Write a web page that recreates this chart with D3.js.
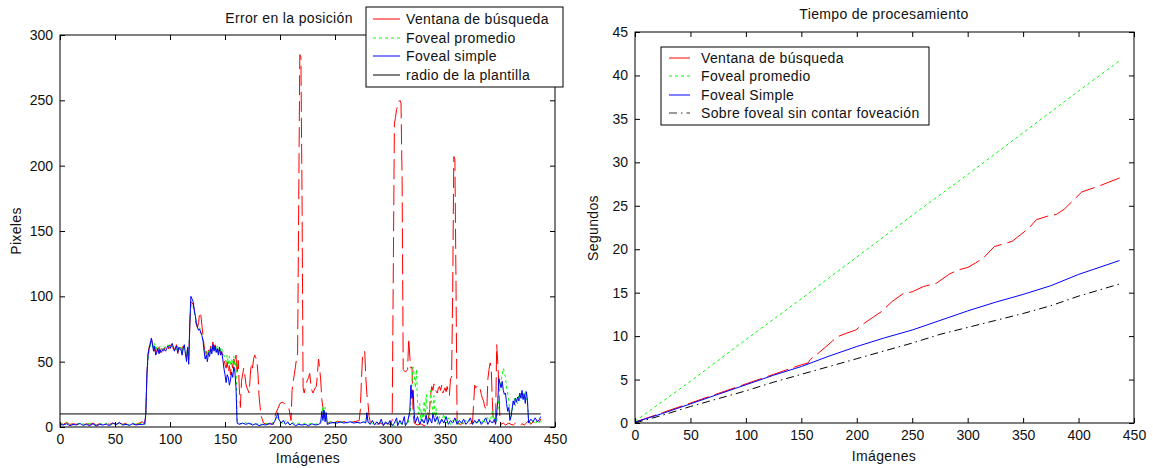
<!DOCTYPE html>
<html>
<head>
<meta charset="utf-8">
<script src="https://cdn.jsdelivr.net/npm/d3@7"></script>
<style>
  body { margin: 0; background: #fff; }
  svg { display: block; }
  text { font-family: "Liberation Sans", Arial, Helvetica, sans-serif; font-size: 14px; fill: #111; }
  text.lbl { letter-spacing: 0.35px; }
</style>
</head>
<body>
<svg id="fig" width="1153" height="468"></svg>
<script>
// ---------- Error en la posición: [imagen, píxeles] ----------
const errVentana = [[0,3],[3,2],[6,3.5],[9,2],[12,2.5],[15,2],[18,3],[21,1.5],[24,2.5],[27,2],[30,3],[33,1.5],[36,2.5],[39,2],[42,3],[45,2],[48,3],[51,2],[54,3],[57,2],[60,3],[63,2],[66,2.5],[69,2],[72,3],[75,4],[77,2],[78,10],[79,40],[80,56],[81,61],[82,64],[83,69],[84,63],[85,61],[86,58],[87,60],[88,56],[89,58],[90,61],[91,57],[92,60],[94,58],[96,62],[98,59],[100,63],[102,61],[104,59],[106,63],[107,56],[108,60],[110,61],[111,58],[112,62],[113,59],[114,57],[115,54],[116,60],[117,50],[118,77],[119,96],[120,95],[121,94],[122,90],[123,82],[124,78],[125,76],[126,80],[127,88],[128,86],[129,78],[130,70],[131,62],[132,56],[133,58],[134,53],[135,59],[136,57],[137,62],[138,58],[139,65],[140,60],[141,63],[142,58],[143,61],[144,57],[145,60],[146,56],[147,58],[148,54],[149,52],[150,48],[151,45],[152,50],[153,42],[154,47],[155,40],[156,49],[157,45],[158,52],[159,48],[160,55],[161,40],[162,51],[163,30],[164,15],[165,35],[167,45],[168,40],[169,33],[170,30],[172,26],[173,40],[174,49],[175,45],[176,52],[177,55],[178,53],[179,51],[180,40],[181,23],[182,15],[183,8],[185,3],[188,2],[191,3],[194,2],[196,10],[198,14],[200,18],[202,19],[204,18],[206,17],[208,15],[210,5],[211,28],[212,35],[213,40],[214,46],[215,52],[216,56],[217,170],[218,285],[219,283],[220,180],[221,30],[222,26],[223,30],[224,34],[225,36],[226,38],[227,41],[228,33],[229,28],[230,26],[231,28],[232,30],[233,31],[234,40],[235,52],[236,45],[237,36],[238,21],[239,15],[240,5],[243,3],[246,4],[249,3],[252,4.5],[255,3.5],[258,4],[261,4.5],[264,3.5],[267,4],[270,4.5],[272,5],[273,13],[274,35],[275,54],[276,56],[277,58],[278,38],[279,25],[280,18],[281,8],[282,4],[285,3],[288,2],[291,3],[294,2],[297,3],[300,2],[302,5],[303,120],[304,232],[305,237],[306,243],[307,246],[308,249],[309,250],[310,248],[311,189],[312,44],[313,43],[314,42],[315,43],[316,44],[317,68],[318,54],[319,45],[320,46],[321,10],[322,3],[325,1.5],[328,2.5],[331,1],[334,2],[336,13],[337,25],[338,31],[339,28],[340,33],[341,30],[342,27],[343,26],[344,30],[345,31],[346,28],[347,32],[348,26],[349,28],[350,30],[351,27],[352,31],[353,26],[354,24],[355,37],[356,38],[357,105],[358,207],[359,205],[360,110],[361,3],[364,2],[367,3],[370,1.5],[373,2.5],[375,3],[376,18],[377,32],[378,30],[379,31],[380,29],[381,28],[382,29],[383,25],[384,22],[385,20],[386,16],[387,14],[388,13],[389,37],[390,44],[391,49],[392,46],[393,20],[394,3],[396,5],[397,63],[398,49],[399,30],[400,5],[401,2],[403,3],[405,1.5],[408,3],[410,2],[412,1.5],[414,3],[416,2],[418,1],[420,2.5],[422,1.5],[424,3],[426,5],[428,2],[430,4],[432,3],[434,5],[436,4],[437,6]];

const errPromedio = [[0,3],[3,2],[6,3],[9,2.5],[12,1.5],[15,3],[18,2],[21,2.5],[24,1.5],[27,3],[30,2],[33,1.5],[36,2.5],[39,2],[42,3],[45,1.5],[48,2.5],[51,2],[54,3],[57,2],[60,2.5],[63,1.5],[66,3],[69,2],[72,2.5],[75,3],[77,2],[78,8],[79,38],[80,52],[81,58],[82,62],[83,66],[84,62],[85,60],[86,64],[87,58],[88,62],[89,58],[90,60],[91,62],[92,59],[94,62],[96,60],[98,63],[100,61],[102,62],[104,60],[106,59],[107,62],[108,58],[110,62],[111,57],[112,62],[113,60],[114,58],[115,55],[116,60],[117,52],[118,78],[119,94],[120,93],[121,92],[122,88],[123,84],[124,80],[125,77],[126,75],[127,76],[128,73],[129,71],[130,67],[131,60],[132,55],[133,58],[134,54],[135,58],[136,56],[137,61],[138,58],[139,62],[140,60],[141,61],[142,59],[143,62],[144,57],[145,62],[146,58],[147,60],[148,56],[149,55],[150,52],[151,50],[152,55],[153,48],[154,54],[155,47],[156,52],[157,48],[158,54],[159,44],[160,50],[161,4],[163,3],[166,2],[169,3.5],[172,2],[175,3],[178,2],[181,3],[184,1.5],[187,3],[190,2],[193,3],[195,5],[197,9],[198,7],[199,5],[201,4],[203,2],[205,5],[207,3],[209,2],[211,4],[214,2],[217,3],[220,2],[223,3],[226,2],[229,3],[232,2],[235,3],[237,4],[238,10],[239,16],[240,8],[241,15],[242,6],[243,3],[246,4],[249,3],[252,4],[255,3.5],[258,4],[261,3],[264,4],[267,3.5],[270,4],[273,3],[276,3.5],[278,4],[279,9],[280,3],[282,4],[284,2],[286,5],[288,3],[290,2],[292,4],[294,2],[296,3],[298,1.5],[300,4],[302,2],[304,1],[306,4],[308,2],[310,3],[312,1],[314,3],[316,2],[318,8],[319,18],[320,35],[321,46],[322,40],[323,30],[324,44],[325,20],[326,10],[327,18],[328,5],[329,12],[330,4],[331,20],[332,8],[333,25],[334,10],[335,3],[336,15],[337,28],[338,18],[339,10],[340,24],[341,5],[342,14],[343,2],[345,8],[347,4],[349,10],[351,3],[353,7],[355,2],[357,5],[359,3],[361,6],[363,2],[365,4],[367,2],[369,5],[371,3],[373,6],[375,2],[377,4],[379,2],[381,5],[383,3],[385,6],[387,3],[389,8],[391,4],[393,12],[394,5],[396,8],[397,3],[398,12],[399,22],[400,30],[401,36],[402,40],[403,45],[404,42],[405,38],[406,30],[407,26],[408,20],[409,10],[410,6],[411,12],[412,18],[413,22],[414,16],[415,21],[416,18],[417,24],[418,20],[419,25],[420,22],[421,26],[422,23],[423,28],[424,20],[425,18],[426,5],[428,3],[430,5],[432,2],[434,5],[436,3],[437,6]];

const errSimple = [[0,2],[3,1.5],[6,2.5],[9,1],[12,2],[15,1.5],[18,2.8],[21,1.2],[24,2],[27,1],[30,2.5],[33,0.8],[36,2],[39,1.5],[42,2.2],[45,1],[48,3],[51,1.8],[54,3.5],[57,1.5],[60,2],[63,1.2],[66,2.5],[69,1.5],[72,2],[75,1.8],[77,2.5],[78,10],[79,40],[80,55],[81,60],[82,63],[83,68],[84,64],[85,58],[86,62],[87,55],[88,57],[89,60],[90,56],[91,59],[92,57],[94,60],[96,58],[98,62],[100,60],[102,64],[104,58],[106,62],[107,57],[108,61],[110,59],[111,55],[112,60],[113,63],[114,56],[115,50],[116,61],[117,48],[118,80],[119,100],[120,98],[121,96],[122,90],[123,85],[124,80],[125,76],[126,74],[127,75],[128,72],[129,70],[130,66],[131,58],[132,52],[133,55],[134,50],[135,57],[136,54],[137,60],[138,56],[139,63],[140,58],[141,62],[142,57],[143,60],[144,55],[145,61],[146,55],[147,57],[148,52],[149,45],[150,40],[151,34],[152,40],[153,38],[154,32],[155,36],[156,42],[157,38],[158,46],[159,42],[160,30],[161,3],[163,2],[166,3],[169,2],[172,3],[175,1.5],[178,2.5],[181,1],[184,2],[187,1.5],[190,2.5],[193,2],[195,4],[197,8],[198,11],[199,6],[201,3],[203,5],[205,2],[207,4],[209,1.5],[211,3],[214,1],[217,2],[220,1.5],[223,2],[226,1],[229,2.5],[232,1.5],[235,2],[237,3],[238,12],[239,5],[240,13],[241,4],[242,11],[243,2],[246,3],[249,3.5],[252,3],[255,4],[258,3],[261,3.5],[264,4],[267,3],[270,3.5],[273,3],[276,4],[278,3],[279,11],[280,4],[282,2],[284,5],[286,1.5],[288,4],[290,2],[292,6],[294,1],[296,4],[298,2],[300,5],[302,1],[304,3],[306,7],[307,1],[309,5],[311,2],[313,8],[314,1],[316,4],[318,12],[319,32],[320,22],[321,28],[322,10],[323,3],[325,8],[327,2],[329,6],[331,3],[333,9],[334,2],[336,7],[338,3],[339,10],[341,4],[343,8],[345,2],[347,6],[349,3],[351,8],[353,2],[355,5],[357,3],[359,7],[361,2],[363,5],[365,3],[367,6],[369,2],[371,4],[373,7],[375,2],[377,5],[379,3],[381,6],[383,2],[385,4],[387,7],[389,2],[391,5],[393,3],[395,6],[396,2],[398,20],[399,37],[400,33],[401,30],[402,35],[403,28],[404,25],[405,26],[406,18],[407,12],[408,15],[409,5],[410,8],[411,14],[412,20],[413,17],[414,22],[415,19],[416,23],[417,20],[418,26],[419,22],[420,28],[421,21],[422,25],[423,18],[424,27],[425,20],[426,3],[428,6],[430,4],[432,7],[434,4],[436,6],[437,8]];

const radioPlantilla = [[0,10],[437,10]];

// ---------- Tiempo de procesamiento: [imagen, segundos] ----------
const tVentana = [[0,0.1],[25,1.2],[50,2.3],[75,3.4],[100,4.5],[125,5.6],[150,6.7],[156,6.9],[158,7.3],[165,8.0],[176,9.2],[182,9.9],[190,10.3],[199,10.7],[207,11.5],[215,12.2],[222,12.8],[232,14.0],[242,14.9],[250,15.1],[260,15.7],[272,16.1],[283,17.1],[291,17.6],[300,17.9],[307,18.4],[315,19.1],[324,20.3],[332,20.6],[340,20.9],[348,21.7],[355,22.4],[362,23.4],[372,23.8],[380,24.0],[387,24.6],[395,25.6],[403,26.6],[417,27.2],[425,27.6],[437,28.2]];
const tPromedio = [[0,0.2],[50,4.8],[100,9.6],[150,14.3],[200,19.1],[250,23.9],[300,28.6],[350,33.4],[400,38.2],[437,41.7]];
const tSimple = [[0,0.1],[25,1.1],[50,2.2],[75,3.3],[100,4.4],[125,5.5],[150,6.5],[175,7.7],[200,8.8],[225,9.8],[250,10.7],[275,11.8],[300,12.9],[325,13.9],[350,14.8],[375,15.8],[400,17.1],[437,18.7]];
const tSinFoveacion = [[0,0],[25,0.9],[50,1.9],[75,2.8],[100,3.7],[125,4.7],[150,5.6],[175,6.5],[200,7.4],[225,8.3],[250,9.2],[275,10.2],[300,11.0],[325,11.8],[350,12.6],[375,13.5],[400,14.6],[437,16.0]];

// ---------- ticks and labels ----------
const xTicks = [0,50,100,150,200,250,300,350,400,450];
const yTicksError = [0,50,100,150,200,250,300];
const yTicksTiempo = [0,5,10,15,20,25,30,35,40,45];

const legendError = ["Ventana de búsqueda","Foveal promedio","Foveal simple","radio de la plantilla"];
const legendTiempo = ["Ventana de búsqueda","Foveal promedio","Foveal Simple","Sobre foveal sin contar foveación"];

// ---------- styles ----------
const RED = "#ff0000", GREEN = "#00ff00", BLUE = "#0000ff", BLACK = "#000000";

const svg = d3.select("#fig");

function drawAxes(g, x, y, xt, yt) {
  const [xa, xb] = x.range();
  const [yb, ya] = y.range();
  g.append("g").attr("transform", `translate(0,${yb})`)
    .call(d3.axisBottom(x).tickValues(xt).tickSizeInner(-5).tickSizeOuter(0).tickPadding(7))
    .call(s => s.select(".domain").remove());
  g.append("g").attr("transform", `translate(0,${ya})`)
    .call(d3.axisTop(x).tickValues(xt).tickSizeInner(-5).tickSizeOuter(0).tickFormat(""))
    .call(s => s.select(".domain").remove());
  g.append("g").attr("transform", `translate(${xa},0)`)
    .call(d3.axisLeft(y).tickValues(yt).tickSizeInner(-5).tickSizeOuter(0).tickPadding(7))
    .call(s => s.select(".domain").remove());
  g.append("g").attr("transform", `translate(${xb},0)`)
    .call(d3.axisRight(y).tickValues(yt).tickSizeInner(-5).tickSizeOuter(0).tickFormat(""))
    .call(s => s.select(".domain").remove());
  g.selectAll(".tick line").attr("stroke", BLACK);
  g.selectAll(".tick text").style("font-size", "14px").style("font-family", "'Liberation Sans', Arial, sans-serif").attr("fill", "#111");
  g.append("rect").attr("x", xa).attr("y", ya).attr("width", xb - xa).attr("height", yb - ya)
    .attr("fill", "none").attr("stroke", BLACK).attr("stroke-width", 1);
}

function drawSeries(g, x, y, data, color, dash, clipId) {
  const line = d3.line().x(d => x(d[0])).y(d => y(d[1]));
  g.append("path").datum(data).attr("d", line)
    .attr("fill", "none").attr("stroke", color).attr("stroke-width", 1)
    .attr("stroke-dasharray", dash || null)
    .attr("clip-path", `url(#${clipId})`);
}

function drawLegend(g, box, entries, styles, rowY, sampleX, textX) {
  g.append("rect").attr("x", box.x).attr("y", box.y).attr("width", box.w).attr("height", box.h)
    .attr("fill", "#fff").attr("stroke", BLACK).attr("stroke-width", 1);
  entries.forEach((label, i) => {
    const yy = rowY[i];
    g.append("line").attr("x1", sampleX[0]).attr("x2", sampleX[1]).attr("y1", yy).attr("y2", yy)
      .attr("stroke", styles[i].color).attr("stroke-width", 1)
      .attr("stroke-dasharray", styles[i].dash || null);
    g.append("text").attr("class", "lbl").attr("x", textX).attr("y", yy + 5).text(label);
  });
}

// ================= Error en la posición =================
{
  const x = d3.scaleLinear().domain([0, 450]).range([60, 555]);
  const y = d3.scaleLinear().domain([0, 300]).range([427, 35]);
  const g = svg.append("g");
  g.append("clipPath").attr("id", "clipL").append("rect")
    .attr("x", 60).attr("y", 35).attr("width", 495).attr("height", 392);

  drawSeries(g, x, y, errVentana, RED, "20,6", "clipL");
  drawSeries(g, x, y, errPromedio, GREEN, "3,3", "clipL");
  drawSeries(g, x, y, errSimple, BLUE, null, "clipL");
  drawSeries(g, x, y, radioPlantilla, BLACK, null, "clipL");
  drawAxes(g, x, y, xTicks, yTicksError);

  g.append("text").attr("class", "lbl").attr("x", 289).attr("y", 23).attr("text-anchor", "middle").text("Error en la posición");
  g.append("text").attr("class", "lbl").attr("x", 308).attr("y", 463).attr("text-anchor", "middle").text("Imágenes");
  g.append("text").attr("class", "lbl").attr("transform", "translate(21,231) rotate(-90)").attr("text-anchor", "middle").text("Pixeles");

  drawLegend(g, {x: 366, y: 7, w: 197, h: 80}, legendError,
    [{color: RED}, {color: GREEN, dash: "3,3"}, {color: BLUE}, {color: BLACK}],
    [19, 38, 56, 75], [373, 400], 406);
}

// ================= Tiempo de procesamiento =================
{
  const x = d3.scaleLinear().domain([0, 450]).range([635, 1134]);
  const y = d3.scaleLinear().domain([0, 45]).range([423, 32]);
  const g = svg.append("g");
  g.append("clipPath").attr("id", "clipR").append("rect")
    .attr("x", 635).attr("y", 32).attr("width", 499).attr("height", 391);

  drawSeries(g, x, y, tVentana, RED, "22,6", "clipR");
  drawSeries(g, x, y, tPromedio, GREEN, "3,3", "clipR");
  drawSeries(g, x, y, tSimple, BLUE, null, "clipR");
  drawSeries(g, x, y, tSinFoveacion, BLACK, "8,4,1.5,4", "clipR");
  drawAxes(g, x, y, xTicks, yTicksTiempo);

  g.append("text").attr("class", "lbl").attr("x", 884).attr("y", 19).attr("text-anchor", "middle").text("Tiempo de procesamiento");
  g.append("text").attr("class", "lbl").attr("x", 884).attr("y", 461).attr("text-anchor", "middle").text("Imágenes");
  g.append("text").attr("class", "lbl").attr("transform", "translate(598,228) rotate(-90)").attr("text-anchor", "middle").text("Segundos");

  drawLegend(g, {x: 661, y: 47, w: 268, h: 78}, legendTiempo,
    [{color: RED}, {color: GREEN, dash: "3,3"}, {color: BLUE}, {color: "#333", dash: "8,4,1.5,4"}],
    [58, 76, 95, 113], [669, 690], 701);
}
</script>
</body>
</html>
